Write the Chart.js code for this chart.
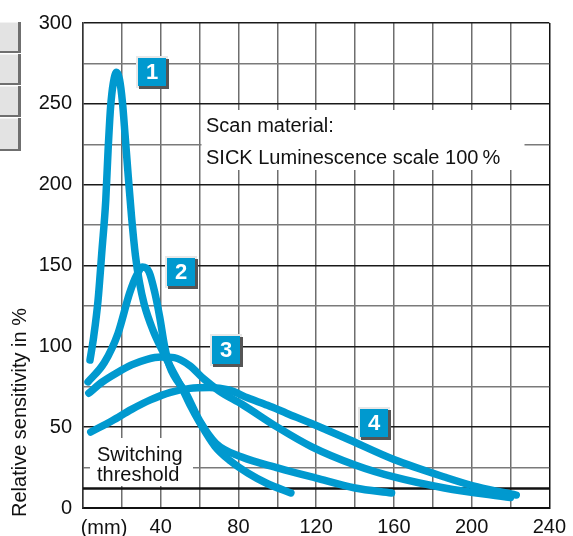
<!DOCTYPE html>
<html>
<head>
<meta charset="utf-8">
<script src="https://cdn.jsdelivr.net/npm/chart.js@4.4.0/dist/chart.umd.min.js"></script>
<style>
  html, body { margin: 0; padding: 0; background: #fff; }
  #wrap { position: relative; width: 573px; height: 536px; }
</style>
</head>
<body>
<div id="wrap"><canvas id="c"></canvas></div>
<script>
// distance (mm), relative sensitivity (%)
const curve1 = [[3.6,91.5],[5.5,106],[7.7,128],[9.8,160],[11.7,190],[12.9,221],[14.2,248],[15.6,263],[17.3,269.5],[18.8,265],[20.3,251],[21.7,230],[23.3,205],[25,180],[27,156],[29,140],[31.5,126],[36,110],[41,97],[46,85],[51,74],[55,64],[60,53],[68,38],[76,29],[85,21.5],[95,15],[107,9.3]]
const curve2 = [[2.6,78],[11,90],[18,108],[24,133],[27.6,144],[30.6,149],[34,146],[37,133],[39.5,118],[42,100],[44.5,88],[53,71],[60,54],[68.4,40],[81.7,31.5],[100.6,24.7],[120,18.5],[140,12.4],[158.8,9.3]]
const curve3 = [[3,71],[10,78],[18,84],[25,88.5],[33,92],[40,93.4],[47,93],[55,88],[62,80],[70,72.5],[82,64],[100,50],[117.5,38],[140,26.6],[160,19.2],[186,12.4],[220,6.5]]
const curve4 = [[4,47],[15,54],[25,61],[35,67],[45,71.5],[55,74],[65,74.5],[75,73],[85,68],[95,63.5],[105,58.5],[117,52.6],[135,43.3],[160,30],[186,19.2],[203,13],[223,8]]
const threshold = 12

const curveNames = ['1', '2', '3', '4']
const labelSpots = [[35.7, 269.6], [50.6, 146], [73.5, 97.7], [150, 52.6]]
const xTickLabels = [40, 80, 120, 160, 200, 240]
const yTickLabels = [0, 50, 100, 150, 200, 250, 300]

const BLUE = '#0099cf'
const FONT = '"Liberation Sans", Arial, sans-serif'

const toPts = arr => arr.map(([x, y]) => ({ x, y }))

const decor = {
  id: 'decor',
  beforeDraw(chart) {
    const c = chart.ctx
    c.save()
    // grey side buttons (cropped UI)
    const btns = [[22, 52], [54, 84], [86, 116], [118, 150]]
    btns.forEach(([t, b]) => {
      c.fillStyle = '#6f6f6f'
      c.fillRect(0, t, 21, b - t + 1)
      c.fillStyle = '#e3e3e3'
      c.fillRect(0, t, 18, b - t - 1)
      c.fillStyle = '#f2f2f2'
      c.fillRect(0, t, 18, 1)
    })
    c.restore()
  },
  beforeDatasetsDraw(chart) {
    const c = chart.ctx
    c.save()
    c.fillStyle = '#fff'
    c.fillRect(201.5, 110, 323, 60)
    c.fillRect(90, 438, 103, 48)
    c.fillStyle = '#111'
    c.font = '20px ' + FONT
    c.textAlign = 'left'
    c.textBaseline = 'alphabetic'
    c.fillText('Scan material:', 206, 132)
    c.fillText('SICK Luminescence scale 100\u2009%', 206, 164)
    c.fillText('Switching', 97, 461)
    c.fillText('threshold', 97, 481)
    c.restore()
  },
  afterDatasetsDraw(chart) {
    const c = chart.ctx
    const xs = chart.scales.x, ys = chart.scales.y
    c.save()
    labelSpots.forEach(([vx, vy], i) => {
      const cx = Math.round(xs.getPixelForValue(vx))
      const cy = Math.round(ys.getPixelForValue(vy))
      c.fillStyle = '#e8e8e8'
      c.fillRect(cx - 16, cy - 16, 32, 32)
      c.fillStyle = '#555'
      c.fillRect(cx - 13, cy - 13, 30, 30)
      c.fillStyle = BLUE
      c.fillRect(cx - 14, cy - 14, 28, 28)
      c.fillStyle = '#fff'
      c.font = 'bold 22px ' + FONT
      c.textAlign = 'center'
      c.textBaseline = 'middle'
      c.fillText(curveNames[i], cx, cy + 1)
    })
    c.restore()
  },
  afterDraw(chart) {
    const c = chart.ctx
    c.save()
    c.fillStyle = '#111'
    c.font = '20px ' + FONT
    c.textBaseline = 'alphabetic'
    c.textAlign = 'center'
    c.fillText('(mm)', chart.chartArea.left + 21, 534)
    c.translate(26, 517)
    c.rotate(-Math.PI / 2)
    c.textAlign = 'left'
    c.fillText('Relative sensitivity in %', 0, 0)
    c.restore()
  }
}

const curveStyle = {
  borderColor: BLUE,
  borderWidth: 7.5,
  pointRadius: 0,
  fill: false,
  cubicInterpolationMode: 'monotone',
  borderCapStyle: 'round',
  borderJoinStyle: 'round',
}

new Chart(document.getElementById('c'), {
  type: 'line',
  data: {
    datasets: [
      { ...curveStyle, data: toPts(curve1) },
      { ...curveStyle, data: toPts(curve2) },
      { ...curveStyle, data: toPts(curve3) },
      { ...curveStyle, data: toPts(curve4) },
      { data: [{ x: 0, y: threshold }, { x: 240, y: threshold }], borderColor: '#111', borderWidth: 2.5, pointRadius: 0, order: 10 },
    ],
  },
  options: {
    animation: false,
    responsive: true,
    maintainAspectRatio: false,
    layout: { padding: { top: 23, right: 20, left: 0, bottom: 0 } },
    plugins: { legend: { display: false }, tooltip: { enabled: false } },
    scales: {
      x: {
        type: 'linear',
        min: 0, max: 240,
        afterFit: s => { s.height = 28 },
        grid: {
          drawTicks: false,
          lineWidth: 1.5,
          color: ctx => (ctx.tick && ctx.tick.value === 240) ? '#111' : '#6e6e6e',
        },
        border: { color: '#111', width: 2 },
        ticks: {
          stepSize: 20, autoSkip: false, maxRotation: 0, padding: 7,
          color: '#111', font: { family: FONT, size: 20 },
          callback: v => xTickLabels.includes(v) ? v : '',
        },
      },
      y: {
        min: 0, max: 300,
        afterFit: s => { s.width = 83 },
        grid: {
          drawTicks: false,
          lineWidth: 1.5,
          color: ctx => (ctx.tick && ctx.tick.value % 50 === 0) ? '#1a1a1a' : '#7a7a7a',
        },
        border: { color: '#333', width: 1.5 },
        ticks: {
          stepSize: 25, autoSkip: false, padding: 11,
          color: '#111', font: { family: FONT, size: 20 },
          callback: v => yTickLabels.includes(v) ? v : '',
        },
      },
    },
  },
  plugins: [decor],
})
</script>
</body>
</html>
